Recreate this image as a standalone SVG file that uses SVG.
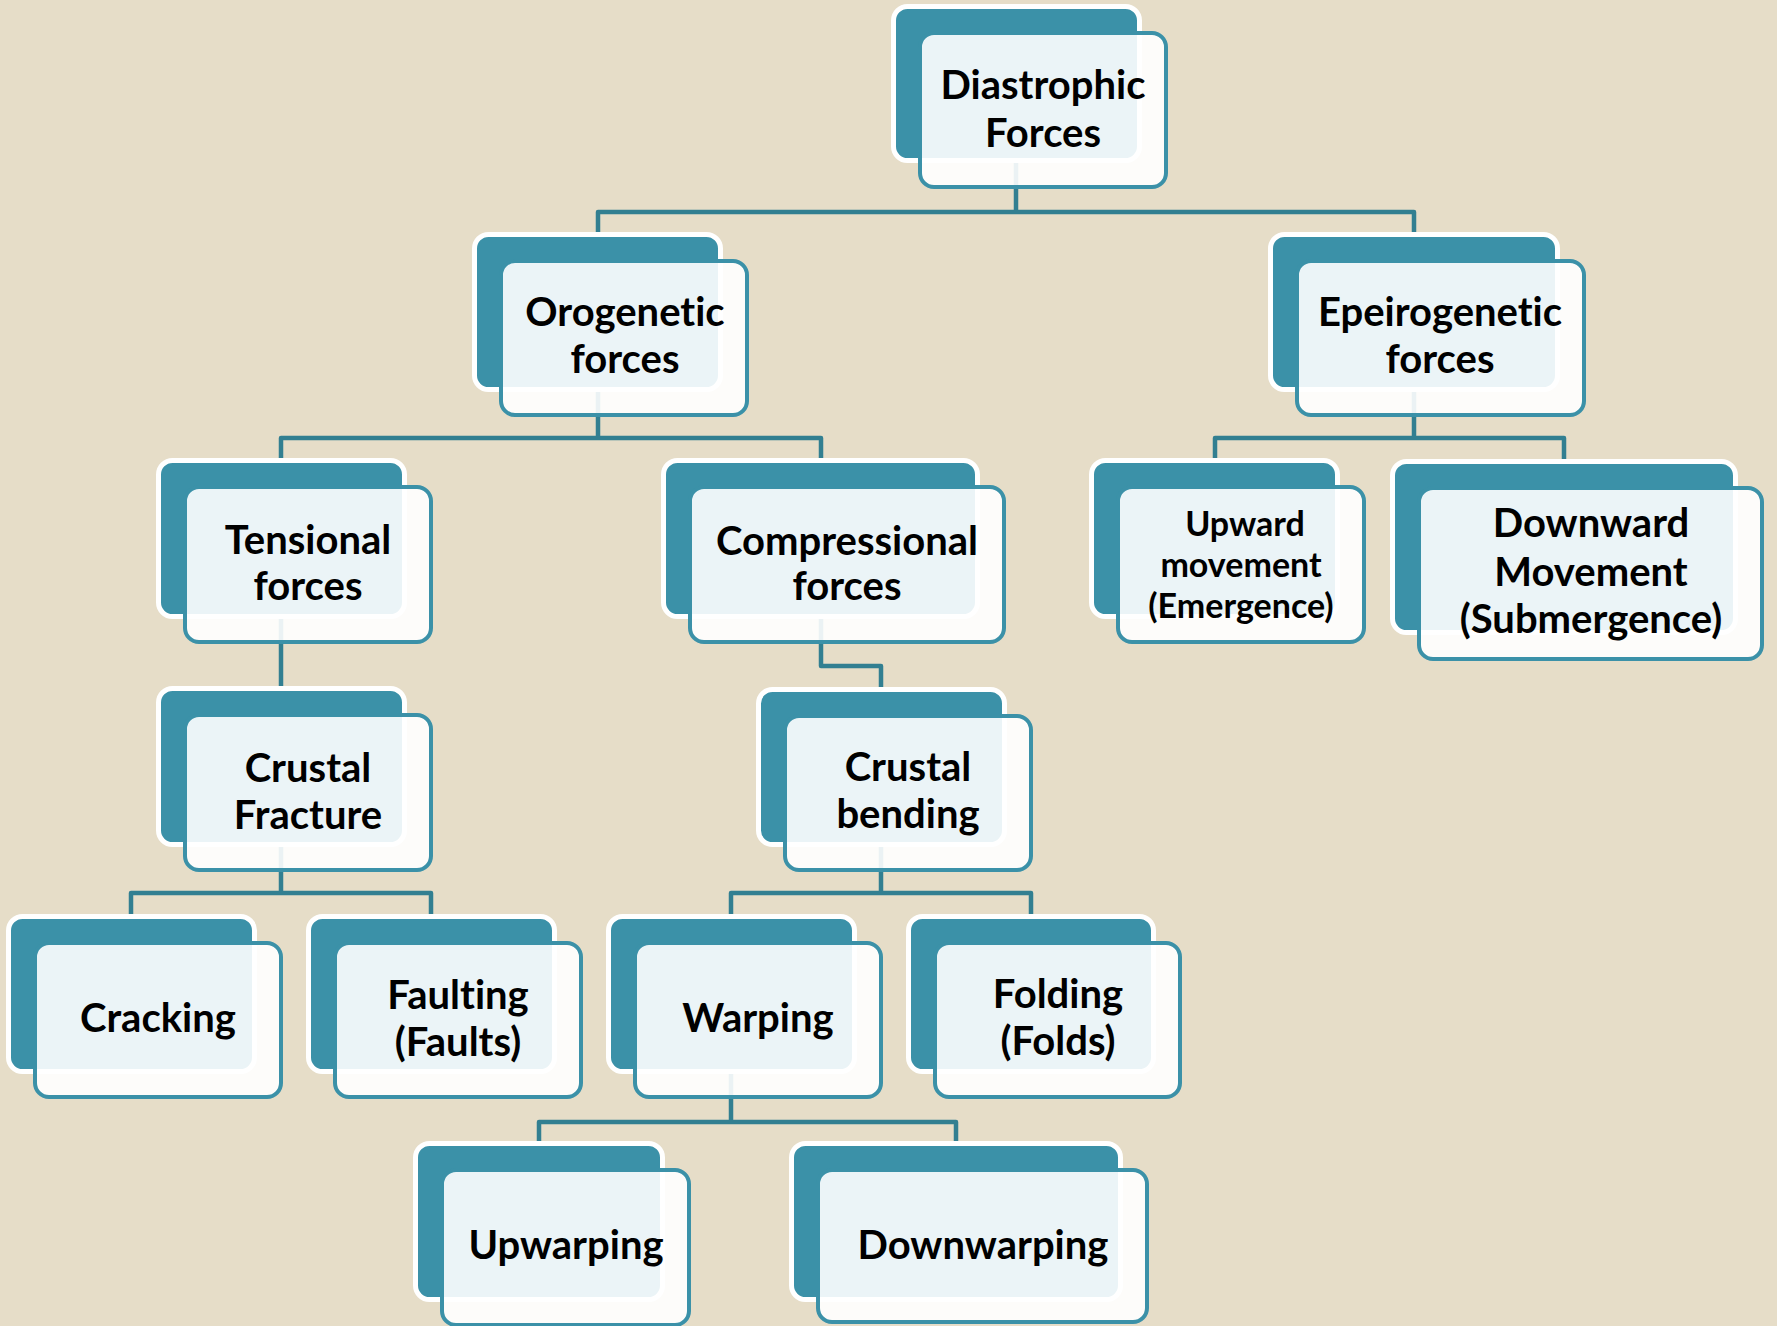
<svg xmlns="http://www.w3.org/2000/svg" width="1777" height="1326" viewBox="0 0 1777 1326">
<style>
.bk{fill:#3B91A8;stroke:#FFFFFF;stroke-width:5}
.fr{fill:#FFFFFF;fill-opacity:0.9;stroke:#3B91A8;stroke-width:4}
.cn{fill:none;stroke:#327F91;stroke-width:4.5;stroke-linejoin:round}
.t{font-family:Lato,"Open Sans","Liberation Sans",sans-serif;font-weight:bold;font-size:40px;fill:#000000;text-anchor:middle;font-variant-ligatures:none;font-feature-settings:"liga" 0,"clig" 0}
.s{font-size:34px}
</style>
<rect width="1777" height="1326" fill="#E6DDC8"/>
<g id="connectors">
<path class="cn" d="M1016,158 V212 M598,237 V212 H1414 V237"/>
<path class="cn" d="M598,387 V438 M281,463 V438 H821 V463"/>
<path class="cn" d="M1414,387 V438 M1215,463 V438 H1564 V464"/>
<path class="cn" d="M281,614 V691"/>
<path class="cn" d="M821,614 V666 H881 V692"/>
<path class="cn" d="M281,842 V893 M131,919 V893 H431 V919"/>
<path class="cn" d="M881,842 V893 M731,919 V893 H1031 V919"/>
<path class="cn" d="M731,1069 V1122 M539,1146 V1122 H956 V1146"/>
</g>
<g id="diastrophic">
<rect class="bk" x="893.5" y="6.5" width="246" height="154" rx="14"/>
<rect class="fr" x="920" y="33" width="246" height="154" rx="14"/>
<text class="t" x="1043" y="99">Diastrophic</text>
<text class="t" x="1043" y="147">Forces</text>
</g>
<g id="orogenetic">
<rect class="bk" x="474.5" y="234.5" width="246" height="155" rx="14"/>
<rect class="fr" x="501" y="261" width="246" height="154" rx="14"/>
<text class="t" x="625" y="326">Orogenetic</text>
<text class="t" x="625" y="373">forces</text>
</g>
<g id="epeirogenetic">
<rect class="bk" x="1270.5" y="234.5" width="287" height="155" rx="14"/>
<rect class="fr" x="1297" y="261" width="287" height="154" rx="14"/>
<text class="t" x="1440" y="326">Epeirogenetic</text>
<text class="t" x="1440" y="373">forces</text>
</g>
<g id="tensional">
<rect class="bk" x="158.5" y="460.5" width="246" height="156" rx="14"/>
<rect class="fr" x="185" y="487" width="246" height="155" rx="14"/>
<text class="t" x="308" y="554">Tensional</text>
<text class="t" x="308" y="600">forces</text>
</g>
<g id="compressional">
<rect class="bk" x="663.5" y="460.5" width="314" height="156" rx="14"/>
<rect class="fr" x="690" y="487" width="314" height="155" rx="14"/>
<text class="t" x="847" y="555">Compressional</text>
<text class="t" x="847" y="600">forces</text>
</g>
<g id="upward">
<rect class="bk" x="1091.5" y="460.5" width="246" height="156" rx="14"/>
<rect class="fr" x="1118" y="487" width="246" height="155" rx="14"/>
<text class="t s" x="1245" y="536">Upward</text>
<text class="t s" x="1241" y="577">movement</text>
<text class="t s" x="1241" y="618">(Emergence)</text>
</g>
<g id="downward">
<rect class="bk" x="1392.5" y="461.5" width="343" height="171" rx="14"/>
<rect class="fr" x="1419" y="488" width="343" height="171" rx="14"/>
<text class="t" x="1591" y="537">Downward</text>
<text class="t" x="1591" y="586">Movement</text>
<text class="t" x="1591" y="633">(Submergence)</text>
</g>
<g id="crustal-fracture">
<rect class="bk" x="158.5" y="688.5" width="246" height="156" rx="14"/>
<rect class="fr" x="185" y="715" width="246" height="155" rx="14"/>
<text class="t" x="308" y="782">Crustal</text>
<text class="t" x="308" y="829">Fracture</text>
</g>
<g id="crustal-bending">
<rect class="bk" x="758.5" y="689.5" width="246" height="155" rx="14"/>
<rect class="fr" x="785" y="716" width="246" height="154" rx="14"/>
<text class="t" x="908" y="781">Crustal</text>
<text class="t" x="908" y="828">bending</text>
</g>
<g id="cracking">
<rect class="bk" x="8.5" y="916.5" width="246" height="155" rx="14"/>
<rect class="fr" x="35" y="943" width="246" height="154" rx="14"/>
<text class="t" x="158" y="1032">Cracking</text>
</g>
<g id="faulting">
<rect class="bk" x="308.5" y="916.5" width="246" height="155" rx="14"/>
<rect class="fr" x="335" y="943" width="246" height="154" rx="14"/>
<text class="t" x="458" y="1009">Faulting</text>
<text class="t" x="458" y="1056">(Faults)</text>
</g>
<g id="warping">
<rect class="bk" x="608.5" y="916.5" width="246" height="155" rx="14"/>
<rect class="fr" x="635" y="943" width="246" height="154" rx="14"/>
<text class="t" x="758" y="1032">Warping</text>
</g>
<g id="folding">
<rect class="bk" x="908.5" y="916.5" width="245" height="155" rx="14"/>
<rect class="fr" x="935" y="943" width="245" height="154" rx="14"/>
<text class="t" x="1058" y="1008">Folding</text>
<text class="t" x="1058" y="1055">(Folds)</text>
</g>
<g id="upwarping">
<rect class="bk" x="415.5" y="1143.5" width="247" height="156" rx="14"/>
<rect class="fr" x="442" y="1170" width="247" height="155" rx="14"/>
<text class="t" x="566" y="1259">Upwarping</text>
</g>
<g id="downwarping">
<rect class="bk" x="791.5" y="1143.5" width="329" height="156" rx="14"/>
<rect class="fr" x="818" y="1170" width="329" height="152" rx="14"/>
<text class="t" x="983" y="1259">Downwarping</text>
</g>
</svg>
